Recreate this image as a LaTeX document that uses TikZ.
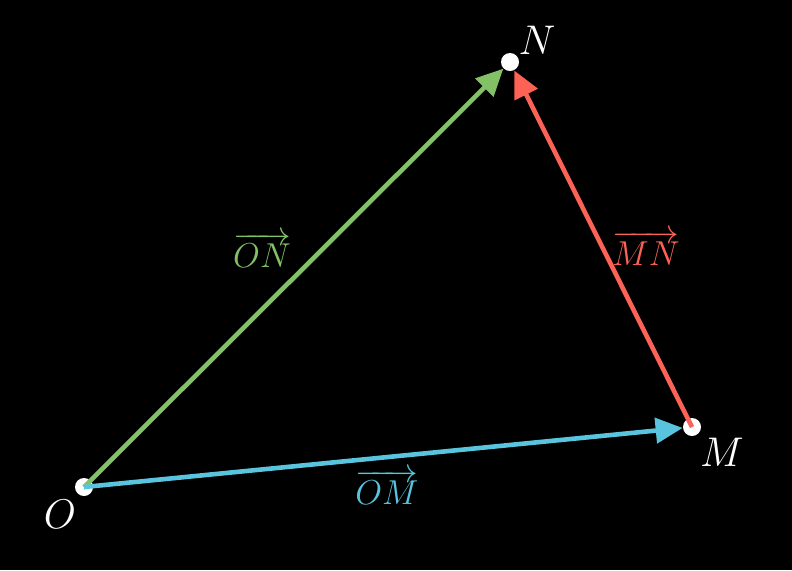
\documentclass[tikz,border=0pt]{standalone}
\usetikzlibrary{arrows.meta}
\definecolor{mgreen}{HTML}{83C167}
\definecolor{mblue}{HTML}{58C4DD}
\definecolor{mred}{HTML}{FC6255}
\begin{document}
\begin{tikzpicture}[x=0.5pt,y=-0.5pt,
  dot/.style={circle,fill=white,inner sep=0pt,minimum size=9pt},
  vec/.style={line width=2.3pt,-{Triangle[length=13.5pt,width=12.5pt]}},
  ptlabel/.style={text=white,font=\fontsize{20}{24}\selectfont},
  veclabel/.style={font=\fontsize{16}{19}\selectfont}]
\fill[black] (0,0) rectangle (792,570);
\useasboundingbox (0,0) rectangle (792,570);
\node[dot] (O) at (84,487) {};
\node[dot] (N) at (510,62) {};
\node[dot] (M) at (692,427) {};
\draw[vec,mgreen] (O.center) -- (N);
\draw[vec,mred] (M.center) -- (N);
\draw[vec,mblue] (O.center) -- (M);
\node[ptlabel] (lN) at (537,40) {$N$};
\node[ptlabel] (lM) at (722,452) {$M$};
\node[ptlabel] (lO) at (60,514) {$O$};
\node[veclabel,text=mgreen] (lON) at (262,250) {$\overrightarrow{ON}$};
\node[veclabel,text=mred] (lMN) at (646,248) {$\overrightarrow{MN}$};
\node[veclabel,text=mblue] (lOM) at (387,487) {$\overrightarrow{OM}$};
\end{tikzpicture}
\end{document}
